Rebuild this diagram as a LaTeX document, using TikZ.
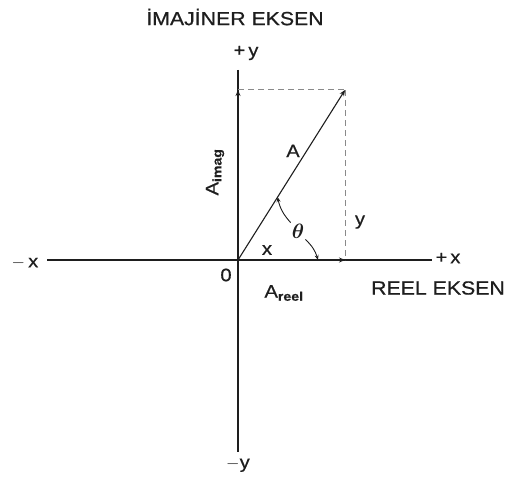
\documentclass[tikz,border=0pt]{standalone}
\usepackage{amsmath}
\usepackage{fontspec}
\setmainfont{Liberation Sans}
\newfontfamily\lblfont[FakeStretch=1.12,FakeBold=0.6]{Liberation Sans}
\usetikzlibrary{arrows.meta,calc}
\definecolor{ink}{HTML}{1E1E1E}
\definecolor{dashgray}{HTML}{8A8A8A}
\tikzset{
  axisline/.style={draw=ink, line width=1.3pt},
  vecline/.style={draw=ink, line width=1.1pt, -{Stealth[length=6pt,width=5pt]}},
  projline/.style={draw=dashgray, line width=1pt, dash pattern=on 6pt off 4pt},
  anglearrow/.style={draw=ink, line width=0.9pt, -{Stealth[length=5pt,width=4pt]}},
  lbl/.style={font=\lblfont\fontsize{18}{20}\selectfont, text=ink, inner sep=1pt},
  titlelbl/.style={font=\lblfont\fontsize{19}{21}\selectfont, text=ink, inner sep=1pt}
}
\begin{document}
\begin{tikzpicture}[x=1pt, y=-1pt]
  \useasboundingbox (0,0) rectangle (505,476);

  % axes
  \coordinate (O) at (238,260);
  \node[lbl] (mx) at (25,263) {$-$\,x};
  \node[lbl] (px) at (448,258) {+\,x};
  \node[lbl] (py) at (246,53) {+\,y};
  \node[lbl] (my) at (238,465) {$-$y};
  \coordinate (xl) at (47,260);
  \coordinate (xr) at (432,260);
  \coordinate (yt) at (238,70);
  \coordinate (yb) at (238,452);
  \draw[axisline] (xl) -- (xr);
  \draw[axisline] (yt) -- (yb);

  % vector and its components
  \coordinate (P) at (345,90);
  \coordinate (Pim) at (238,90);
  \coordinate (Pre) at (345,260);
  \draw[projline] (Pim) -- (P);
  \draw[projline] (P) -- (Pre);
  \draw[vecline] (O) -- (P);
  \draw[vecline] (O) -- (Pim);
  \draw[vecline] (O) -- (Pre);

  % angle
  \node[lbl, font=\fontsize{22}{24}\selectfont] (th) at (298,231) {$\boldsymbol{\theta}$};
  \coordinate (onA) at ($(O)!0.37!(P)$);
  \coordinate (onX) at (318,260);
  \draw[anglearrow] (th.north west) to[bend left=15] (onA);
  \draw[anglearrow] (th.south east) to[bend left=15] (onX);

  % labels
  \node[titlelbl] (title) at (235,17) {İMAJİNER EKSEN};
  \node[titlelbl] (reel) at (438,288) {REEL EKSEN};
  \node[lbl] (zero) at (226,275) {0};
  \node[lbl] (are) at (284,293) {A\textsubscript{\bfseries reel}};
  \node[lbl, rotate=90] (aim) at (215,172) {A\textsubscript{\bfseries imag}};
  \node[lbl] (alab) at (293,151) {A};
  \node[lbl] (xlab) at (267,250) {x};
  \node[lbl] (ylab) at (360,222) {y};
\end{tikzpicture}
\end{document}
